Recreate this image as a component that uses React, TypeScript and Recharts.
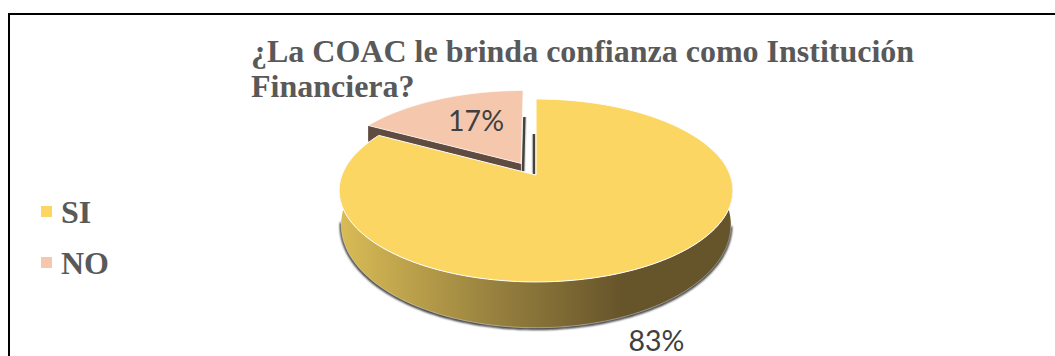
import React from 'react';
import { PieChart, Pie, Legend } from 'recharts';

const categories = ['SI', 'NO'];
const shares = [83, 17];
const sliceColors = ['#FBD662', '#F5C8AD'];

const titleLines = ['¿La COAC le brinda confianza como Institución', 'Financiera?'];

const chartData = categories.map((name, i) => ({ name, value: shares[i], fill: sliceColors[i] }));

// perspective of the disc: far rim is squeezed, near rim stretched
const PERSPECTIVE = 0.169;
const TOP_SQUASH = 0.458;
const LOW_SQUASH = 0.515;
const LOW_DROP = 32.5;
const LOW_WIDTH = 0.99;
const EXPLODE_NO = 0.155;

type Pt = [number, number];

const rad = (d: number) => (d * Math.PI) / 180;

// clockwise degrees from twelve o'clock, on the upper face or the lower one
const project = (cx: number, cy: number, R: number, theta: number, r: number, mid: number, ex: number, low = false): Pt => {
  const u = r * Math.sin(rad(theta)) + ex * Math.sin(rad(mid));
  const v = r * Math.cos(rad(theta)) + ex * Math.cos(rad(mid));
  const d = 1 + PERSPECTIVE * v;
  if (low) return [cx + (LOW_WIDTH * R * u) / d, cy + LOW_DROP - (LOW_SQUASH * R * v) / d];
  return [cx + (R * u) / d, cy - (TOP_SQUASH * R * v) / d];
};

const toPath = (pts: Pt[]) => pts.map((p, i) => `${i ? 'L' : 'M'}${p[0].toFixed(2)} ${p[1].toFixed(2)}`).join(' ');

const range = (a: number, b: number, step = 1.5) => {
  const out: number[] = [];
  for (let t = a; t < b; t += step) out.push(t);
  out.push(b);
  return out;
};

const PieSlice = (props: any) => {
  const { cx, cy, outerRadius: R, startAngle, endAngle, fill, payload, drawFor } = props;
  if (payload.name !== drawFor) return <g />;

  const from = 90 - startAngle;
  const to = 90 - endAngle;
  const mid = (from + to) / 2;
  const ex = payload.name === 'NO' ? EXPLODE_NO : 0;
  const top = (t: number, r = 1) => project(cx, cy, R, t, r, mid, ex);
  const low = (t: number) => project(cx, cy, R, t, 1, mid, ex, true);

  const face = `${toPath([top(from, 0), ...range(from, to).map((t) => top(t))])} Z`;

  if (payload.name === 'NO') {
    // inner wall under the left edge, the lower part sits behind the big slice
    const a = top(from);
    const b = top(from, 0);
    const wall = toPath([a, b, [b[0], b[1] + 9], [a[0], a[1] + 16]]) + ' Z';
    const rimEnd = top(to, 0.6);
    const apex = top(to, 0);
    return (
      <g>
        <path d={wall} fill="#5F4B3F" />
        <path d={`M${apex[0] + 2} ${apex[1] + 8} L${rimEnd[0] + 2} ${rimEnd[1]}`} stroke="#999" strokeOpacity={0.3} strokeWidth={5} />
        <path d={`M${apex[0] + 2} ${apex[1] + 8} L${rimEnd[0] + 2} ${rimEnd[1]}`} stroke="#45423E" strokeWidth={2.5} />
        <path d={face} fill={fill} stroke="#fff" strokeWidth={0.7} />
      </g>
    );
  }

  // outer wall, only the part facing the viewer
  const front = range(Math.max(from, 75), Math.min(to, 285));
  let side = '';
  front.slice(1).forEach((t, i) => {
    side += `${toPath([top(front[i]), low(front[i]), low(t), top(t)])} Z `;
  });
  const lowerRim = range(100, 262).map(low);
  const apex = top(from, 0);
  const wallEnd = top(from, 0.5);

  return (
    <g>
      <defs>
        <linearGradient id="sideShade" gradientUnits="userSpaceOnUse" x1={cx - R} y1={0} x2={cx + R * 0.45} y2={0}>
          <stop offset="0" stopColor="#D8BB56" />
          <stop offset="0.5" stopColor="#9C8540" />
          <stop offset="1" stopColor="#66542A" />
        </linearGradient>
        <filter id="rimBlur" x="-5%" y="-5%" width="110%" height="110%">
          <feGaussianBlur stdDeviation="0.8" />
        </filter>
      </defs>
      <path d={`M${apex[0] - 2} ${apex[1]} L${wallEnd[0] - 2} ${wallEnd[1]}`} stroke="#999" strokeOpacity={0.3} strokeWidth={5} />
      <path d={`M${apex[0] - 2} ${apex[1]} L${wallEnd[0] - 2} ${wallEnd[1]}`} stroke="#45423E" strokeWidth={2.5} />
      <path d={toPath(lowerRim)} fill="none" stroke="#111" strokeWidth={2.4} filter="url(#rimBlur)" transform="translate(0 0.8)" />
      <path d={side} fill="url(#sideShade)" />
      <path d={toPath(lowerRim)} fill="none" stroke="#fff" strokeOpacity={0.45} strokeWidth={0.7} />
      <path d={face} fill={fill} stroke="#fff" strokeWidth={1} />
    </g>
  );
};

const PercentLabel = (props: any) => {
  const { cx, cy, outerRadius: R, midAngle, name, value } = props;
  const mid = 90 - midAngle;
  let p: Pt;
  if (name === 'NO') {
    p = project(cx, cy, R, mid, 0.61, mid, EXPLODE_NO);
    p = [p[0] + 8, p[1] + 9];
  } else {
    p = project(cx, cy, R, mid, 1, mid, 0, true);
    p = [p[0] + 6, p[1] + 43];
  }
  return (
    <text x={p[0]} y={p[1]} textAnchor="middle" fontFamily="Lato, sans-serif" fontSize={28.5} fill="#404040">
      {value}%
    </text>
  );
};

// both pies report their sectors, keep one entry per category
const LegendList = ({ payload }: any) => (
  <div>
    {categories.map((name) => {
      const item = (payload || []).find((p: any) => p.value === name);
      return (
        <div key={name} style={{ display: 'flex', alignItems: 'center', height: 51 }}>
          <span style={{ width: 11, height: 11, background: item?.color, marginRight: 9 }} />
          <span style={{ fontFamily: '"Liberation Serif", serif', fontWeight: 700, fontSize: 32, color: '#595959', position: 'relative', top: 1 }}>{name}</span>
        </div>
      );
    })}
  </div>
);

export default function App() {
  return (
    <div style={{ position: 'absolute', left: 0, top: 0, width: 1055, height: 356, overflow: 'hidden', background: '#fff' }}>
      <div style={{ position: 'absolute', left: 8, top: 13, width: 1047, height: 343, borderTop: '2px solid #000', borderLeft: '2px solid #000' }} />
      <PieChart width={1055} height={356} margin={{ top: 0, right: 0, bottom: 0, left: 0 }} style={{ position: 'absolute', left: 0, top: 0 }}>
        <Pie
          data={chartData}
          dataKey="value"
          nameKey="name"
          cx={536}
          cy={175}
          outerRadius={194}
          startAngle={90}
          endAngle={-270}
          stroke="none"
          legendType="none"
          isAnimationActive={false}
          shape={(p: any) => <PieSlice {...p} drawFor="NO" />}
        />
        <Pie
          data={chartData}
          dataKey="value"
          nameKey="name"
          cx={536}
          cy={175}
          outerRadius={194}
          startAngle={90}
          endAngle={-270}
          stroke="none"
          legendType="square"
          isAnimationActive={false}
          label={PercentLabel}
          labelLine={false}
          shape={(p: any) => <PieSlice {...p} drawFor="SI" />}
        />
        <Legend
          layout="vertical"
          align="center"
          verticalAlign="middle"
          content={LegendList}
          wrapperStyle={{ position: 'absolute', left: 41, top: 186, width: 120 }}
        />
      </PieChart>
      <div
        style={{
          position: 'absolute',
          left: 251,
          top: 34,
          fontFamily: '"Liberation Serif", serif',
          fontWeight: 700,
          fontSize: 32,
          lineHeight: '35px',
          color: '#595959',
          whiteSpace: 'nowrap',
        }}
      >
        {titleLines.map((line) => (
          <div key={line}>{line}</div>
        ))}
      </div>
    </div>
  );
}
